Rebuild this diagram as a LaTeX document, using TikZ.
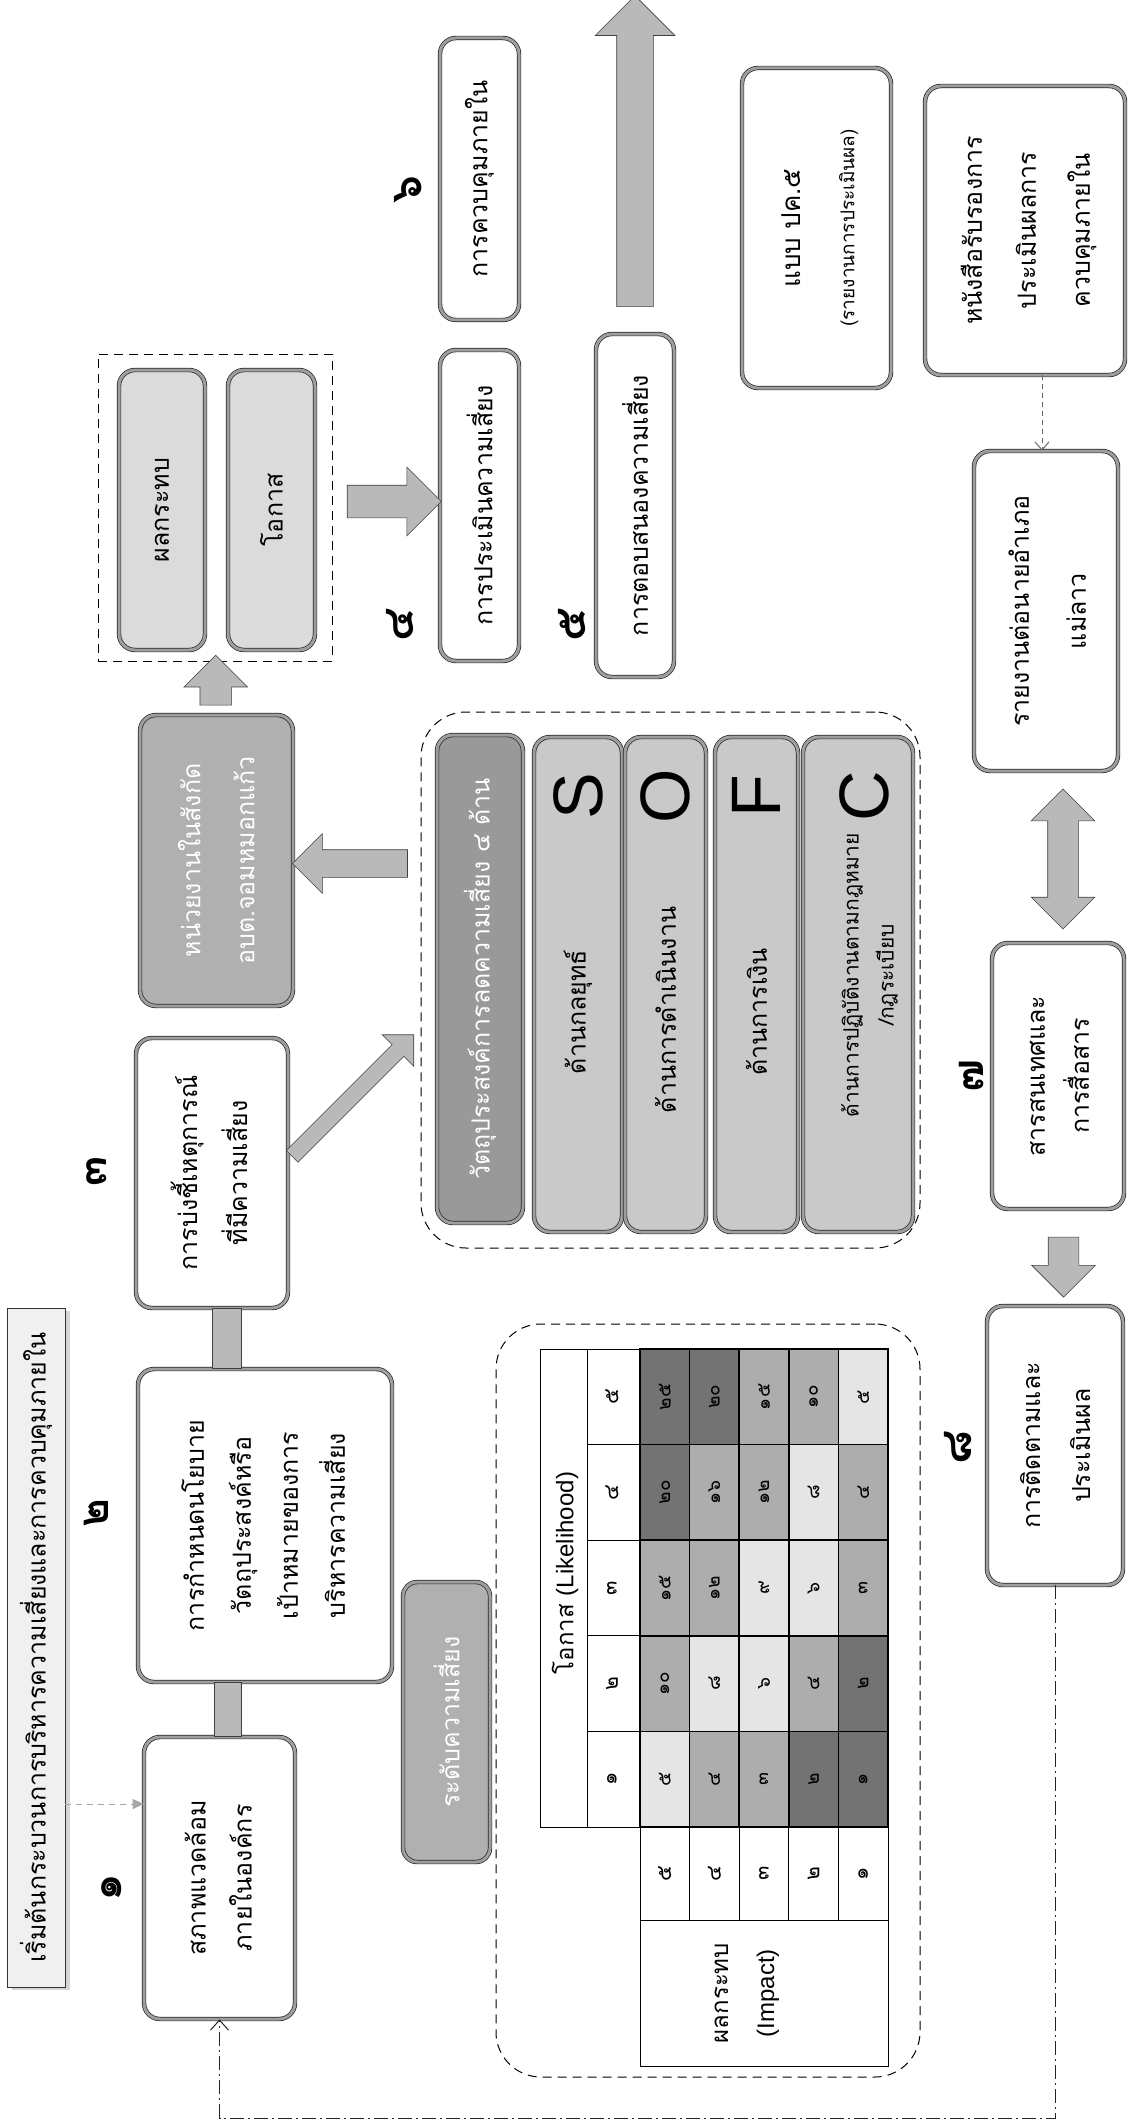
\documentclass[tikz,border=0pt]{standalone}
\usepackage{fontspec}
\usepackage{graphicx}
\setmainfont[Script=Thai]{Loma}
\newfontfamily\latf{Liberation Sans}
\usetikzlibrary{shapes.arrows,calc,arrows.meta,shadows}
\definecolor{cL}{gray}{0.90}
\definecolor{cM}{gray}{0.68}
\definecolor{cD}{gray}{0.45}
\definecolor{bandgray}{gray}{0.62}
\newcommand{\rt}[1]{\rotatebox{90}{\begin{tabular}{@{}c@{}}#1\end{tabular}}}
\begin{document}
\begin{tikzpicture}[x=1pt,y=-1pt,
  lsp/.style={font=\fontsize{25}{#1}\selectfont},
  wbox/.style={draw=black!85, line width=0.7pt, double=bandgray, double distance=3pt, rounded corners=16pt, fill=white, inner sep=0pt},
  gbox/.style={wbox, fill=gray!28},
  obox/.style={wbox, fill=gray!42},
  dbox/.style={wbox, fill=gray!62, text=white},
  hbox/.style={wbox, fill=gray!80, text=white},
  dashbox/.style={draw=black, line width=1pt, dash pattern=on 9pt off 6pt, inner sep=0pt},
  num/.style={font=\fontsize{44}{44}\selectfont\bfseries, inner sep=0pt},
  bigl/.style={font=\latf\fontsize{70}{70}\selectfont, inner sep=0pt},
  blk/.style n args={4}{single arrow, draw=black!75, line width=0.6pt, fill=gray!55, inner xsep=0pt,
     inner ysep=#4, minimum height=#1, minimum width=#2, single arrow head extend=#3, anchor=center},
  dblk/.style n args={4}{double arrow, draw=black!75, line width=0.6pt, fill=gray!55, inner xsep=0pt,
     inner ysep=#4, minimum height=#1, minimum width=#2, double arrow head extend=#3, anchor=center},
  bar/.style={draw=black!75, line width=0.6pt, fill=gray!55},
  tl/.style={draw=black, line width=0.8pt},
  cn/.style={font=\fontsize{19}{19}\selectfont, inner sep=0pt},
  hn/.style={font=\fontsize{21}{21}\selectfont, inner sep=0pt}
]
\fill[white] (0,0) rectangle (1128,2124);
\useasboundingbox (0,0) rectangle (1128,2124);

% ---------- dashed groups ----------
\node[dashbox, minimum width=234pt, minimum height=307pt] (dash1) at (215,507.5) {};
\node[dashbox, rounded corners=45pt, minimum width=499pt, minimum height=536pt] (dash2) at (670.5,980) {};
\node[dashbox, rounded corners=45pt, minimum width=424pt, minimum height=753pt] (dash3) at (708,1700.5) {};

% ---------- start label ----------
\node[draw=black!80, line width=0.6pt, fill=gray!12, inner sep=0pt, lsp=25,
      drop shadow={shadow xshift=5pt, shadow yshift=-3pt, fill=gray!65},
      minimum width=58pt, minimum height=679pt] (start) at (36,1647.5)
      {\rotatebox{90}{เริ่มต้นกระบวนการบริหารความเสี่ยงและการควบคุมภายใน}};

% ---------- main process boxes ----------
\node[wbox, lsp=46, minimum width=151pt, minimum height=282pt] (r1) at (219.5,1878) {\rt{สภาพแวดล้อม\\ภายในองค์กร}};
\node[wbox, lsp=47, minimum width=254pt, minimum height=313pt] (r2) at (265,1525.5) {\rt{การกำหนดนโยบาย\\วัตถุประสงค์หรือ\\เป้าหมายของการ\\บริหารความเสี่ยง}};
\node[wbox, lsp=50, minimum width=152pt, minimum height=270pt] (r3) at (212,1173) {\rt{การบ่งชี้เหตุการณ์\\ที่มีความเสี่ยง}};
\node[dbox, lsp=54, minimum width=153pt, minimum height=291pt] (unit) at (216.5,860.5) {\rt{หน่วยงานในสังกัด\\อบต.จอมหมอกแก้ว}};
\node[gbox, lsp=25, minimum width=86pt, minimum height=280pt] (imp) at (162,510) {\rotatebox{90}{ผลกระทบ}};
\node[gbox, lsp=25, minimum width=87pt, minimum height=280pt] (opp) at (271.5,510) {\rotatebox{90}{โอกาส}};
\node[wbox, lsp=25, minimum width=79pt, minimum height=311pt] (r4) at (479.5,505.5) {\rotatebox{90}{การประเมินความเสี่ยง}};
\node[wbox, lsp=25, minimum width=79pt, minimum height=282pt] (r6) at (479.5,179) {\rotatebox{90}{การควบคุมภายใน}};
\node[wbox, lsp=25, minimum width=78pt, minimum height=343pt] (r5) at (635,505.5) {\rotatebox{90}{การตอบสนองความเสี่ยง}};
\node[wbox, lsp=54, minimum width=149pt, minimum height=320pt] (pk5) at (816.5,228) {\rt{{\fontsize{26}{26}\selectfont แบบ ปค.๕}\\{\fontsize{19}{19}\selectfont (รายงานการประเมินผล)}}};
\node[wbox, lsp=54, minimum width=200pt, minimum height=289pt] (cert) at (1025,230.5) {\rt{หนังสือรับรองการ\\ประเมินผลการ\\ควบคุมภายใน}};
\node[wbox, lsp=57, minimum width=144pt, minimum height=320pt] (rep) at (1046,611) {\rt{รายงานต่อนายอำเภอ\\แม่ลาว}};
\node[wbox, lsp=44, minimum width=132pt, minimum height=266pt] (r7) at (1058,1076) {\rt{สารสนเทศและ\\การสื่อสาร}};
\node[wbox, lsp=50, minimum width=136pt, minimum height=279pt] (r8) at (1055,1445.5) {\rt{การติดตามและ\\ประเมินผล}};

% ---------- objectives ----------
\node[hbox, lsp=25, minimum width=86pt, minimum height=488pt] (hdr) at (480,979) {\rotatebox{90}{วัตถุประสงค์การลดความเสี่ยง ๔ ด้าน}};
\node[obox, minimum width=88pt, minimum height=495pt] (oS) at (578,984.5) {};
\node[obox, minimum width=81pt, minimum height=495pt] (oO) at (665.5,984.5) {};
\node[obox, minimum width=83pt, minimum height=495pt] (oF) at (756.5,984.5) {};
\node[obox, minimum width=110pt, minimum height=495pt] (oC) at (858,984.5) {};
\node[bigl] (lS) at (oS |- 0,796) {\rotatebox{90}{S}};
\node[bigl] (lO) at (oO |- 0,796) {\rotatebox{90}{O}};
\node[bigl] (lF) at (oF |- 0,796) {\rotatebox{90}{F}};
\node[bigl] (lC) at (864,796) {\rotatebox{90}{C}};
\node[lsp=25, inner sep=0pt] (tS) at (oS |- 0,1012) {\rotatebox{90}{ด้านกลยุทธ์}};
\node[lsp=25, inner sep=0pt] (tO) at (oO |- 0,1010) {\rotatebox{90}{ด้านการดำเนินงาน}};
\node[lsp=25, inner sep=0pt] (tF) at (oF |- 0,1012) {\rotatebox{90}{ด้านการเงิน}};
\node[font=\fontsize{21}{35}\selectfont, inner sep=0pt] (tC) at (869,975) {\rt{ด้านการปฏิบัติงานตามกฎหมาย\\/กฎระเบียบ}};

% ---------- risk level label ----------
\node[dbox, rounded corners=14pt, lsp=25, minimum width=87pt, minimum height=280pt] (lvl) at (446.5,1722) {\rotatebox{90}{ระดับความเสี่ยง}};

% ---------- step numbers ----------
\node[num] (n1) at (112,1888) {\rotatebox{90}{๑}};
\node[num] (n2) at (96,1513) {\rotatebox{90}{๒}};
\node[num] (n3) at (97,1171) {\rotatebox{90}{๓}};
\node[num] (n4) at (400,625) {\rotatebox{90}{๔}};
\node[num] (n5) at (572,625) {\rotatebox{90}{๕}};
\node[num] (n6) at (408,190) {\rotatebox{90}{๖}};
\node[num] (n7) at (972,1076) {\rotatebox{90}{๗}};
\node[num] (n8) at (958,1448) {\rotatebox{90}{๘}};

% ---------- risk matrix ----------
\draw[tl] (540,1349) rectangle (587,1827);
\node[font=\fontsize{24}{24}\selectfont, inner sep=0pt] (ttl) at (565,1573) {\rotatebox{90}{โอกาส {\latf (Likelihood)}}};
\foreach \j/\d in {1/๑,2/๒,3/๓,4/๔,5/๕}{
  \draw[tl] (587,{1827-\j*95.6}) rectangle (640,{1827-(\j-1)*95.6});
  \node[hn] (h\j) at (612,{1827-(\j-0.5)*95.6}) {\rotatebox{90}{\d}};
}
\foreach \i/\j/\v/\c in {
1/1/๕/cL,1/2/๑๐/cM,1/3/๑๕/cM,1/4/๒๐/cD,1/5/๒๕/cD,
2/1/๔/cM,2/2/๘/cL,2/3/๑๒/cM,2/4/๑๖/cM,2/5/๒๐/cD,
3/1/๓/cM,3/2/๖/cL,3/3/๙/cL,3/4/๑๒/cM,3/5/๑๕/cM,
4/1/๒/cD,4/2/๔/cM,4/3/๖/cL,4/4/๘/cL,4/5/๑๐/cM,
5/1/๑/cD,5/2/๒/cD,5/3/๓/cM,5/4/๔/cM,5/5/๕/cL}{
  \draw[tl, fill=\c, line width=1.5pt] ({640+(\i-1)*49.6},{1827-\j*95.6}) rectangle ({640+\i*49.6},{1827-(\j-1)*95.6});
  \node[cn] (c\i\j) at ({640+(\i-0.5)*49.6},{1827-(\j-0.5)*95.6}) {\rotatebox{90}{\v}};
}
\foreach \i/\d in {1/๕,2/๔,3/๓,4/๒,5/๑}{
  \draw[tl] ({640+(\i-1)*49.6},1827) rectangle ({640+\i*49.6},1920);
  \node[hn] (m\i) at ({640+(\i-0.5)*49.6},1873.5) {\rotatebox{90}{\d}};
}
\draw[tl] (640,1920) rectangle (888,2066);
\node[font=\fontsize{24}{46}\selectfont, inner sep=0pt] (imph) at (742,1993) {\rt{ผลกระทบ\\{\latf (Impact)}}};

% ---------- connectors ----------
\draw[bar] (212,0 |- r3.south) rectangle (241,0 |- r2.north);
\draw[bar] (214,0 |- r2.south) rectangle (241,0 |- r1.north);
\node[blk={50pt}{63pt}{16pt}{15.5pt}, rotate=90] (a1) at ($(unit.north)!0.5!(dash1.south)$) {};
\node[blk={94pt}{68pt}{18pt}{16pt}] (a2) at ($(dash1.east)!0.5!(r4.west)+(0,-5)$) {};
\node[blk={115pt}{59pt}{16pt}{13.5pt}, rotate=180] (a3) at ($(unit.east)!0.5!(unit.east -| dash2.west)+(0,3)$) {};
\coordinate (d1) at (289,1160);
\coordinate (d2) at (411,1037);
\node[blk={172pt}{44pt}{14pt}{8pt}, rotate=45] (a4) at ($(d1)!0.5!(d2)$) {};
\node[dblk={140pt}{63pt}{16.5pt}{15pt}, rotate=90] (a5) at ($(rep.south)!0.5!(r7.north)+(11,2)$) {};
\node[blk={60pt}{63pt}{16.5pt}{15pt}, rotate=-90] (a6) at ($(r7.south)!0.5!(r8.north)+(7,2)$) {};
\coordinate (bigtip) at (635,5);
\node[blk={311pt}{79pt}{21.5pt}{18pt}, rotate=90] (a7) at ($(r5.north)!0.5!(bigtip)+(0,-9)$) {};

\draw[black!60, line width=1pt, dash pattern=on 5pt off 4pt, -{Straight Barb[length=8pt,width=14pt]}]
  (1042,0 |- cert.south) -- (1042,0 |- rep.north);
\draw[gray!70, line width=1pt, dash pattern=on 6pt off 5pt, -{Triangle[length=11pt,width=10pt]}]
  (start.east |- 0,1804) -- (r1.west |- 0,1804);
\draw[black!85, line width=1pt, dash pattern=on 14pt off 4pt on 2pt off 4pt, -{Straight Barb[length=10pt,width=18pt]}]
  (r8.south) -- (r8.south |- 0,2118) -- (r1.south |- 0,2118) -- (r1.south);
\end{tikzpicture}
\end{document}
